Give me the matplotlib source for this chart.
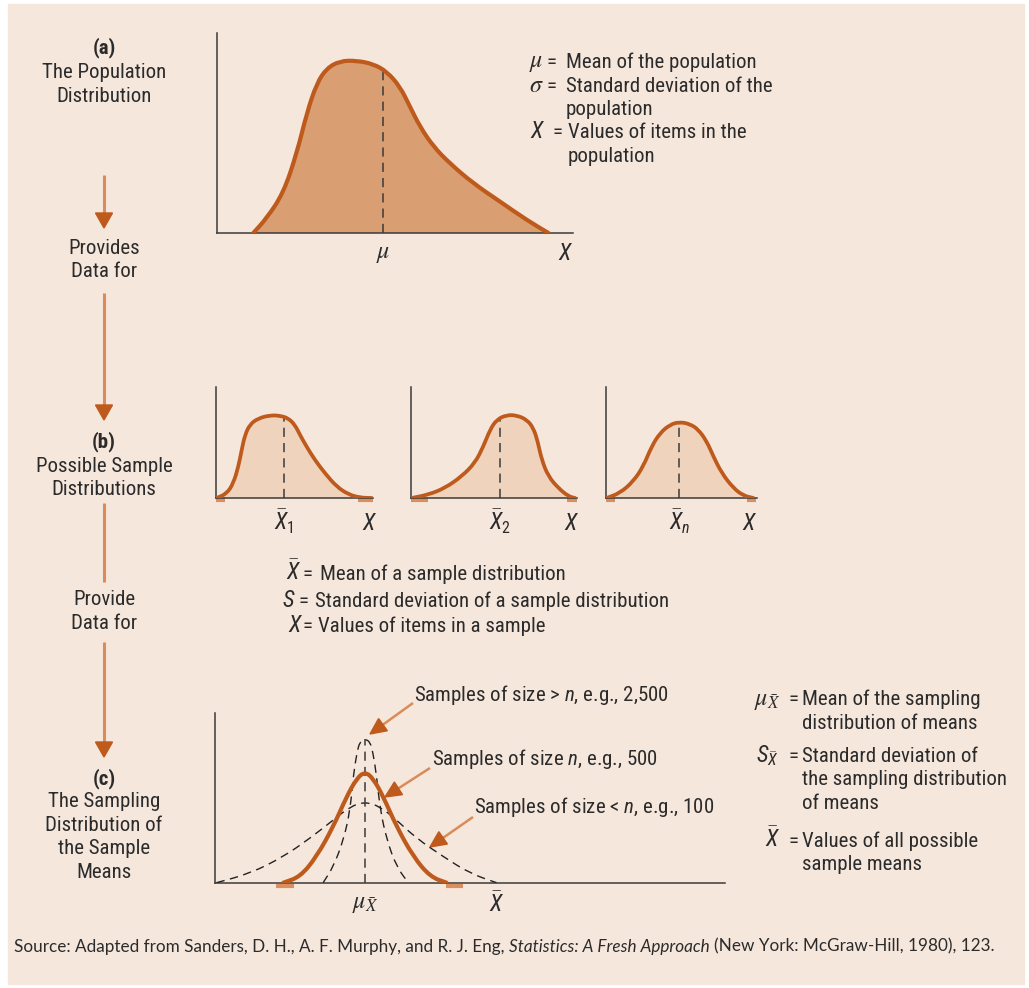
import matplotlib
matplotlib.use("Agg")
import matplotlib.pyplot as plt
from matplotlib import font_manager as fm
from matplotlib.path import Path
from matplotlib.patches import PathPatch, Rectangle, Polygon

# pick a narrow sans if one is installed, else Roboto
narrow = [f for f in fm.fontManager.ttflist
          if f.stretch in ("condensed", "semi-condensed", "extra-condensed")
          and f.style == "normal" and f.weight in (400, "normal", "regular")]
narrow_names = {f.name for f in narrow}
FAM, STRETCH = "Roboto", "normal"
for fam in ["Roboto Condensed", "Liberation Sans Narrow", "Noto Sans Condensed",
            "Noto Sans", "Open Sans Condensed", "Open Sans", "DejaVu Sans"]:
    if fam in narrow_names:
        FAM, STRETCH = fam, "condensed"
        break

plt.rcParams["font.family"] = FAM
plt.rcParams["font.stretch"] = STRETCH
plt.rcParams["mathtext.fontset"] = "custom"
plt.rcParams["mathtext.it"] = FAM + ":italic"
plt.rcParams["mathtext.rm"] = FAM
plt.rcParams["mathtext.bf"] = FAM + ":bold"

BG = "#F6E7DD"
TXT = "#2B2B2B"
AXC = "#3A3A3A"
LINE = "#BE5A1C"
FILL_A = "#D99F72"
FILL_B = "#F0D3BD"
MARK = "#DB8F5E"
ARR_LINE = "#D98C58"
ARR_HEAD = "#BE5A1C"
FS = 15.0
FS_SYM = 16.5
FS_GREEK = 17.3

# (a) population distribution, x and height on 0-100 scales
pop_x = [10.2, 13.9, 18.6, 22.4, 25.2, 28.0, 30.8, 34.5, 39.2, 43.9,
         47.7, 51.4, 54.2, 57.0, 60.8, 65.4, 72.0, 79.5, 87.0, 93.1]
pop_y = [0, 7.3, 19.8, 39.8, 59.8, 74.8, 82.3, 86.0, 86.2, 84.5,
         80.7, 73.2, 63.2, 53.2, 43.2, 34.8, 24.8, 15.7, 6.5, 0]
pop_mean, pop_mean_h = 46.7, 81.5

# (b) three sample distributions
s1_x = [0.6, 7.0, 11.2, 14.4, 16.5, 18.6, 21.8, 27.1, 34.5, 40.9,
        46.2, 50.4, 53.6, 57.8, 63.1, 69.5, 76.9, 84.3, 91.7, 99.2]
s1_y = [0, 3.9, 13.2, 28.2, 43.2, 56.8, 66.4, 71.8, 74.5, 74.2,
        71.8, 65.8, 56.8, 46.2, 34.2, 22.2, 10.2, 3.3, 0.3, 0]
s2_x = [0.6, 10.6, 20.7, 30.7, 38.7, 43.8, 47.8, 51.8, 57.8,
        63.8, 69.9, 73.9, 76.5, 78.9, 82.9, 88.9, 95.0, 99.0]
s2_y = [0, 3.0, 9.0, 19.5, 31.5, 46.5, 61.6, 70.6, 74.8,
        74.5, 70.6, 63.1, 51.1, 34.5, 19.5, 9.0, 1.5, 0]
s3_x = [0.6, 9.5, 18.3, 24.9, 30.4, 36.0, 42.6, 48.8,
        55.8, 61.4, 66.9, 71.3, 76.8, 84.5, 91.2, 97.8]
s3_y = [0, 4.5, 15.0, 28.5, 46.5, 58.6, 66.1, 68.5,
        66.7, 61.6, 51.1, 37.5, 22.5, 9.0, 2.1, 0]
sample_means = [43.4, 53.8, 48.8]
sample_mean_h = [72, 72, 67]
sample_labels = [r"$\bar{X}_1$", r"$\bar{X}_2$", r"$\bar{X}_n$"]
sample_x_pos = [98.1, 96.9, 95.6]
sample_marks = [[(0, 6.0), (90.5, 100)], [(0, 10.4), (94.2, 100)], [(0, 6.2), (93.6, 99.5)]]

# (c) sampling distributions of the mean
n500_x = [13.4, 16.7, 19.9, 23.2, 25.8, 27.8, 29.4, 31.0, 33.0, 35.6, 38.9, 42.2, 45.4]
n500_y = [0, 3.5, 15.3, 33.1, 50.8, 61.6, 65.5, 61.6, 50.8, 33.1, 15.3, 3.5, 0]
n100_x = [0.3, 6.9, 13.4, 18.6, 23.2, 26.5, 29.4, 32.4, 35.6, 39.5, 44.8, 50.0, 55.2]
n100_y = [0, 5.5, 15.3, 26.2, 37.0, 44.9, 47.8, 44.9, 37.0, 26.2, 15.3, 5.5, 0]
n2500_x = [21.2, 23.2, 25.2, 26.5, 27.1, 27.8, 28.4, 29.4, 30.4, 31.0, 31.7, 32.4, 33.7, 35.6, 37.9]
n2500_y = [0, 9.4, 25.2, 42.9, 62.6, 76.4, 83.3, 84.7, 83.3, 76.4, 62.6, 42.9, 25.2, 9.4, 0]
c_mean, c_mean_h = 29.4, 84.7
c_marks = [(12.0, 15.5), (45.3, 48.6)]


def smooth_path(xs, ys, close=False):
    verts = [(xs[0], ys[0])]
    codes = [Path.MOVETO]
    mids = [((xs[i] + xs[i + 1]) / 2, (ys[i] + ys[i + 1]) / 2) for i in range(len(xs) - 1)]
    verts.append(mids[0]); codes.append(Path.LINETO)
    for i in range(1, len(xs) - 1):
        verts += [(xs[i], ys[i]), mids[i]]
        codes += [Path.CURVE3, Path.CURVE3]
    verts.append((xs[-1], ys[-1])); codes.append(Path.LINETO)
    if close:
        verts.append((xs[0], ys[0])); codes.append(Path.CLOSEPOLY)
    return Path(verts, codes)


W, H = 1029, 988
fig = plt.figure(figsize=(W / 100, H / 100), dpi=100, facecolor="white")

bg = fig.add_axes([0, 0, 1, 1], zorder=0)
bg.set_xlim(0, W); bg.set_ylim(H, 0); bg.axis("off")
bg.add_patch(Rectangle((8, 4), 1016, 980, color=BG, zorder=0))


def px_axes(l, t, r, b):
    ax = fig.add_axes([l / W, 1 - b / H, (r - l) / W, (b - t) / H], zorder=1)
    ax.set_xlim(0, 100); ax.set_ylim(0, 100)
    ax.patch.set_visible(False)
    for s in ["top", "right"]:
        ax.spines[s].set_visible(False)
    for s in ["left", "bottom"]:
        ax.spines[s].set_color(AXC); ax.spines[s].set_linewidth(1.1)
    ax.set_xticks([]); ax.set_yticks([])
    return ax


def curve(ax, xs, ys, fill=None, lw=2.9):
    if fill:
        ax.add_patch(PathPatch(smooth_path(xs, ys, True), facecolor=fill, edgecolor="none", zorder=1))
    ax.add_patch(PathPatch(smooth_path(xs, ys), facecolor="none", edgecolor=LINE, lw=lw,
                           capstyle="round", joinstyle="round", zorder=4))


def dashed(ax, xs, ys, lw=1.0):
    ax.add_patch(PathPatch(smooth_path(xs, ys), facecolor="none", edgecolor="#222222", lw=lw,
                           linestyle=(0, (6, 4)), zorder=3))


def vline(ax, x, h):
    ax.plot([x, x], [0, h], color=AXC, lw=1.1, ls=(0, (6, 4)), zorder=3)


def under(ax, x, s, drop_px, size=FS_SYM, **kw):
    ax.annotate(s, xy=(x, 0), xytext=(0, -drop_px * 0.72), textcoords="offset points",
                ha="center", va="baseline", color=TXT, fontsize=size, **kw)


def marks(ax, spans):
    for a, b in spans:
        ax.plot([a, b], [-1.8, -1.8], color=MARK, lw=3, solid_capstyle="butt",
                clip_on=False, zorder=2)


def arrow(x0, y0, x1, y1, lw=2.2, hl=15, hw=17):
    L = ((x1 - x0) ** 2 + (y1 - y0) ** 2) ** 0.5
    ux, uy = (x1 - x0) / L, (y1 - y0) / L
    bx, by = x1 - ux * hl, y1 - uy * hl
    bg.plot([x0, bx + ux * 2], [y0, by + uy * 2], color=ARR_LINE, lw=lw, solid_capstyle="butt", zorder=2)
    px, py = -uy, ux
    bg.add_patch(Polygon([(x1, y1), (bx + px * hw / 2, by + py * hw / 2),
                          (bx - px * hw / 2, by - py * hw / 2)], color=ARR_HEAD, zorder=3))


def t(x, y, s, ha="left", **kw):
    # y is the visual centre of the line, in image pixels
    kw.setdefault("fontsize", FS)
    kw.setdefault("color", TXT)
    bg.text(x, y + 7, s, ha=ha, va="baseline", **kw)


def sym(x, y, s, **kw):
    t(x, y, s, fontsize=FS_SYM, **kw)


def greek(x, y, s):
    t(x, y, s, fontsize=FS_GREEK, math_fontfamily="stix")


# (a)
ax_a = px_axes(217, 33, 573, 233)
curve(ax_a, pop_x, pop_y, fill=FILL_A, lw=3.0)
vline(ax_a, pop_mean, pop_mean_h)
under(ax_a, pop_mean, r"$\mu$", 25, size=FS_GREEK, math_fontfamily="stix")
under(ax_a, 98.0, r"$X$", 27)

# (b)
b_boxes = [(215.7, 373), (410.7, 576.7), (605.7, 756.7)]
for (l, r), xs, ys, m, mh, lab, xp, mk in zip(b_boxes, [s1_x, s2_x, s3_x], [s1_y, s2_y, s3_y],
                                               sample_means, sample_mean_h, sample_labels,
                                               sample_x_pos, sample_marks):
    ax = px_axes(l, 387, r, 498)
    curve(ax, xs, ys, fill=FILL_B, lw=2.7)
    vline(ax, m, mh)
    marks(ax, mk)
    under(ax, m, lab, 32)
    under(ax, xp, r"$X$", 32)

# (c)
ax_c = px_axes(215, 713.3, 725, 882.7)
dashed(ax_c, n100_x, n100_y)
dashed(ax_c, n2500_x, n2500_y)
curve(ax_c, n500_x, n500_y, lw=3.0)
vline(ax_c, c_mean, c_mean_h)
marks(ax_c, c_marks)
under(ax_c, c_mean, r"$\mu_{\bar{X}}$", 25, size=FS_GREEK, math_fontfamily="stix")
under(ax_c, 55.3, r"$\bar{X}$", 29)

# left column
left_lines = [("(a)", 46, "bold"), ("The Population", 71, "normal"), ("Distribution", 95, "normal"),
              ("Provides", 247, "normal"), ("Data for", 270, "normal"),
              ("(b)", 440, "bold"), ("Possible Sample", 465, "normal"), ("Distributions", 488, "normal"),
              ("Provide", 598, "normal"), ("Data for", 622, "normal"),
              ("(c)", 777, "bold"), ("The Sampling", 800, "normal"), ("Distribution of", 824, "normal"),
              ("the Sample", 847, "normal"), ("Means", 871, "normal")]
for s, y, w in left_lines:
    t(104, y, s, ha="center", fontweight=w)

arrow(104, 175, 104, 228)
arrow(104, 293, 104, 420)
bg.plot([104, 104], [503, 582], color=ARR_LINE, lw=2.2, solid_capstyle="butt")
arrow(104, 642, 104, 757)

# legend (a)
greek(529, 60, r"$\mu$")
t(547, 61, "=")
t(566, 61, "Mean of the population")
greek(529, 85.5, r"$\sigma$")
t(547, 84.5, "=")
t(566, 84.5, "Standard deviation of the")
t(566, 108, "population")
sym(530, 131.5, r"$X$")
t(552, 131.5, "=")
t(568, 131.5, "Values of items in the")
t(568, 155, "population")

# legend (b)
sym(286.5, 573, r"$\bar{X}$")
t(302, 573, "=")
t(320, 573, "Mean of a sample distribution")
sym(281.5, 600, r"$S$")
t(298, 600, "=")
t(315, 600, "Standard deviation of a sample distribution")
sym(288, 625, r"$X$")
t(302, 625, "=")
t(318.5, 625, "Values of items in a sample")

# legend (c)
greek(754, 698.3, r"$\mu_{\bar{X}}$")
t(789, 698.3, "=")
t(801.7, 698.3, "Mean of the sampling")
t(801.7, 721.7, "distribution of means")
sym(756.5, 755, r"$S_{\bar{X}}$")
t(789, 755, "=")
t(801.7, 755, "Standard deviation of")
t(801.7, 778.3, "the sampling distribution")
t(801.7, 801.7, "of means")
sym(765, 840, r"$\bar{X}$")
t(789, 840, "=")
t(801.7, 840, "Values of all possible")
t(801.7, 862.7, "sample means")

# callouts in (c)
t(413.5, 694, "Samples of size > $n$, e.g., 2,500")
t(432, 758, "Samples of size $n$, e.g., 500")
t(473.5, 806, "Samples of size < $n$, e.g., 100")
arrow(413, 703, 370, 734, lw=1.8, hl=16, hw=15)
arrow(430, 768, 385, 797, lw=1.8, hl=16, hw=15)
arrow(473, 817, 430, 847, lw=1.8, hl=16, hw=15)

# source line, pieces laid out one after the other
renderer = fig.canvas.get_renderer()
src_kw = dict(fontsize=12.3, color=TXT, va="baseline", family="Lato")
probe1 = bg.text(0, 500, "a a", **src_kw)
probe2 = bg.text(0, 500, "aa", **src_kw)
gap = probe1.get_window_extent(renderer).width - probe2.get_window_extent(renderer).width
probe1.remove(); probe2.remove()
x = 14
for piece, style in [("Source: Adapted from Sanders, D. H., A. F. Murphy, and R. J. Eng,", "normal"),
                     ("Statistics: A Fresh Approach", "italic"),
                     ("(New York: McGraw-Hill, 1980), 123.", "normal")]:
    tx = bg.text(x, 951.5, piece, style=style, **src_kw)
    x += tx.get_window_extent(renderer).width + gap

fig.savefig("out.png", dpi=100, facecolor="white")
